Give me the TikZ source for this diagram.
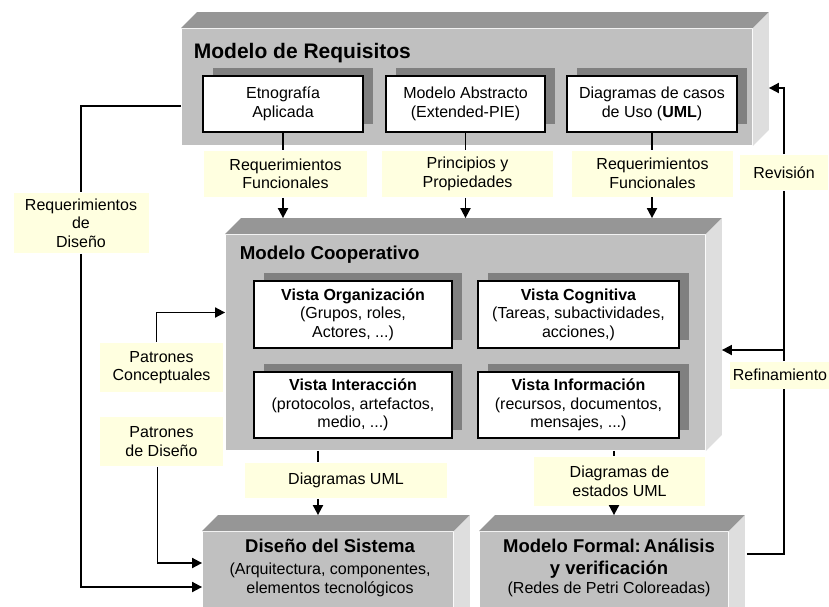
\documentclass[tikz,border=0pt]{standalone}
\usepackage{fontspec}
\setmainfont{Liberation Sans}
\usetikzlibrary{arrows.meta,shadows}
\definecolor{cubefront}{HTML}{C0C0C0}
\definecolor{cubetop}{HTML}{969696}
\definecolor{cubeside}{HTML}{DEDEDE}
\definecolor{boxshade}{HTML}{808080}
\definecolor{notebg}{HTML}{FFFFE0}
\newcommand\cube[1]{%
    \fill[cubetop] (#1.north west) -- ++(16,-16) -- ([shift={(16,-16)}]#1.north east) -- (#1.north east) -- cycle;
    \fill[cubeside] (#1.north east) -- ++(16,-16) -- ([shift={(16,-16)}]#1.south east) -- (#1.south east) -- cycle;}
\newcommand\bigb[1]{{\bfseries\fontsize{18.5}{22}\selectfont #1}}

\begin{document}
\begin{tikzpicture}[x=1pt, y=-1pt, line width=1.8pt, >={Triangle[length=10pt,width=10pt]},
    every node/.style={font=\fontsize{16}{18.5}\selectfont, align=center, inner sep=0pt},
    block/.style={fill=cubefront},
    head/.style={anchor=base west, font=\bfseries\fontsize{#1}{#1}\selectfont},
    view/.style={draw, line width=1.5pt, fill=white,
        drop shadow={shadow xshift=10pt, shadow yshift=8pt, fill=boxshade, opacity=1}},
    note/.style={fill=notebg}]
    \useasboundingbox (0,0) rectangle (829,606);
    \clip (0,0) rectangle (829,606);

    \node[block, minimum width=570, minimum height=116] (req) at (467,87) {};
    \cube{req}
    \node[head=21] (reqt) at (193,58) {Modelo de Requisitos};
    \node[view, minimum width=160, minimum height=56] (etno) at (283,104) {Etnografía\\Aplicada};
    \node[view, minimum width=159, minimum height=56] (abst) at (465.5,104) {Modelo Abstracto\\(Extended-PIE)};
    \node[view, minimum width=170, minimum height=56] (diag) at (652,104) {Diagramas de casos\\de Uso (\textbf{UML})};

    \node[block, minimum width=479, minimum height=215] (coop) at (465.5,342.5) {};
    \cube{coop}
    \node[head=18.7] (coopt) at (239,259) {Modelo Cooperativo};
    \node[view, minimum width=198, minimum height=67] (org) at (353,314.5) {\textbf{Vista Organización}\\(Grupos, roles,\\Actores, ...)};
    \node[view, minimum width=201, minimum height=67] (cog) at (578.5,314.5) {\textbf{Vista Cognitiva}\\(Tareas, subactividades,\\acciones,)};
    \node[view, minimum width=198, minimum height=66] (int) at (353,405) {\textbf{Vista Interacción}\\(protocolos, artefactos,\\medio, ...)};
    \node[view, minimum width=201, minimum height=66] (info) at (578.5,405) {\textbf{Vista Información}\\(recursos, documentos,\\mensajes, ...)};

    \node[block, minimum width=250, minimum height=92] (dis) at (328,578) {};
    \cube{dis}
    \node (dist) at (330,568) {\bigb{Diseño del Sistema}\\[3.5pt](Arquitectura, componentes,\\elementos tecnológicos};
    \node[block, minimum width=248, minimum height=92] (form) at (604,578) {};
    \cube{form}
    \node (formt) at (609,568) {\bigb{Modelo Formal:\,Análisis}\\[3.5pt]\bigb{y verificación}\\(Redes de Petri Coloreadas)};

    \node[note, minimum width=163, minimum height=46] (l1) at (285.5,174) {Requerimientos\\Funcionales};
    \node[note, minimum width=171, minimum height=46] (l2) at (467.5,174) {Principios y\\Propiedades};
    \node[note, minimum width=161, minimum height=46] (l3) at (652.5,173.5) {Requerimientos\\Funcionales};
    \node[note, minimum width=135, minimum height=60] (rd) at (81,223) {Requerimientos\\de\\Diseño};
    \node[note, minimum width=123, minimum height=49] (pc) at (161.5,367.5) {Patrones\\Conceptuales};
    \node[note, minimum width=123, minimum height=49] (pd) at (161.5,441.5) {Patrones\\de Diseño};
    \node[note, minimum width=202, minimum height=35] (uml) at (346,480.5) {Diagramas UML};
    \node[note, minimum width=171, minimum height=49] (est) at (619.5,481.5) {Diagramas de\\estados UML};
    \node[note, minimum width=88, minimum height=35] (rev) at (784,172.5) {Revisión};
    \node[note, minimum width=100, minimum height=27] (ref) at (780,375) {Refinamiento};

    \coordinate (cooptop) at ([yshift=16pt]coop.north);
    \coordinate (distop) at ([shift={(-10pt,16pt)}]dis.north);
    \coordinate (formtop) at ([shift={(10pt,16pt)}]form.north);

    \draw (etno) -- (etno |- l1.north);
    \draw[->] (etno |- l1.south) -- (etno |- cooptop);
    \draw (abst) -- (abst |- l2.north);
    \draw[->] (abst |- l2.south) -- (abst |- cooptop);
    \draw (diag) -- (diag |- l3.north);
    \draw[->] (diag |- l3.south) -- (diag |- cooptop);
    \draw (coop.south -| distop) -- (distop |- uml.north);
    \draw[->] (distop |- uml.south) -- (distop);
    \draw (coop.south -| formtop) -- (formtop |- est.north);
    \draw[->] (formtop |- est.south) -- (formtop);
    \draw ([yshift=-19pt]req.west) -| (rd.north);
    \draw[->] (rd.south) |- ([yshift=-9pt]dis.west);
    \draw[->] ([xshift=-5pt]pc.north) |- ([yshift=30pt]coop.west);
    \draw[->] ([xshift=-4pt]pd.south) |- ([yshift=15pt]dis.west);
    \draw ([shift={(18pt,24pt)}]form.east) -| (rev |- ref.south);
    \draw[->] (rev |- ref.north) |- ([shift={(16pt,-7.5pt)}]coop.east);
    \draw (rev |- ref.north) -- (rev.south);
    \draw[->] (rev.north) |- ([shift={(16pt,-1pt)}]req.east);
\end{tikzpicture}
\end{document}
